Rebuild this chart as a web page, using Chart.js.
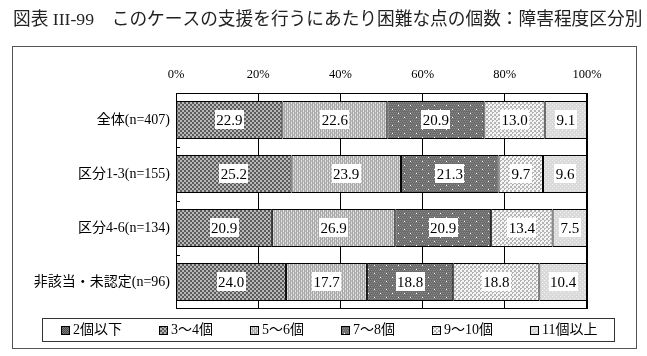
<!DOCTYPE html>
<html><head><meta charset="utf-8">
<script src="https://cdn.jsdelivr.net/npm/chart.js@4/dist/chart.umd.min.js"></script>
<style>html,body{margin:0;padding:0;background:#fff;}canvas{display:block;}</style>
</head><body>
<canvas id="c" width="647" height="356"></canvas>
<script>
const titleText = '図表 III-99　このケースの支援を行うにあたり困難な点の個数：障害程度区分別';
const categories = ['全体(n=407)', '区分1-3(n=155)', '区分4-6(n=134)', '非該当・未認定(n=96)'];
const seriesNames = ['2個以下', '3～4個', '5～6個', '7～8個', '9～10個', '11個以上'];
// segments drawn in the bars (legend items 2..6)
const v3to4  = [22.9, 25.2, 20.9, 24.0];
const v5to6  = [22.6, 23.9, 26.9, 17.7];
const v7to8  = [20.9, 21.3, 20.9, 18.8];
const v9to10 = [13.0,  9.7, 13.4, 18.8];
const v11up  = [ 9.1,  9.6,  7.5, 10.4];
const tickValues = [0, 20, 40, 60, 80, 100];

const FONT = '"Liberation Serif", "Noto Sans CJK JP", serif';

function pat(w, h, fn) {
  const c = document.createElement('canvas'); c.width = w; c.height = h;
  const g = c.getContext('2d'); fn(g);
  return document.getElementById('c').getContext('2d').createPattern(c, 'repeat');
}
function checker(a, b, s) {
  return pat(2*s, 2*s, g => { g.fillStyle = a; g.fillRect(0,0,2*s,2*s); g.fillStyle = b; g.fillRect(0,0,s,s); g.fillRect(s,s,s,s); });
}
const patterns = [
  checker('#4a4a4a', '#7a7a7a', 1),
  checker('#5c5c5c', '#b8b8b8', 2),
  pat(4, 4, g => { g.fillStyle = '#bdbdbd'; g.fillRect(0,0,4,4); g.fillStyle = '#e4e4e4'; g.fillRect(0,0,2,2); g.fillRect(2,2,2,2); g.fillStyle='#a8a8a8'; g.fillRect(0,0,1,4); g.fillRect(2,0,1,4);}),
  pat(12, 8, g => { g.fillStyle = '#6c6c6c'; g.fillRect(0,0,12,8); g.fillStyle = '#8a8a8a';
      for (let y=0;y<8;y+=2) for (let x=(y/2)%2;x<12;x+=2) g.fillRect(x,y,1,1);
      g.fillStyle = '#ffffff'; g.fillRect(2,1,1,1); g.fillRect(8,5,1,1); }),
  pat(4, 4, g => { g.fillStyle = '#f4f4f4'; g.fillRect(0,0,4,4); g.fillStyle = '#b4b4b4'; g.fillRect(0,0,2,2); g.fillRect(2,2,2,2); g.fillStyle='#ffffff'; g.fillRect(1,1,1,1);}),
  pat(4, 4, g => { g.fillStyle = '#dadada'; g.fillRect(0,0,4,4); g.fillStyle = '#f2f2f2'; g.fillRect(0,0,1,1); g.fillRect(2,2,1,1); })
];

const rawSeries = [v3to4, v5to6, v7to8, v9to10, v11up];
const rowSums = categories.map((_, i) => rawSeries.reduce((s, arr) => s + arr[i], 0));
const datasets = rawSeries.map((arr, k) => ({
  label: seriesNames[k+1],
  raw: arr,
  data: arr.map((v, i) => v / rowSums[i] * 100),
  backgroundColor: patterns[k+1],
  borderColor: '#000',
  borderWidth: 1,
  borderSkipped: false,
  categoryPercentage: 1,
  barPercentage: 0.7
}));

const decor = {
  id: 'decor',
  beforeDraw(chart) {
    const ctx = chart.ctx;
    ctx.save();
    ctx.fillStyle = '#fff'; ctx.fillRect(0, 0, chart.width, chart.height);
    ctx.fillStyle = '#222';
    ctx.font = '17.7px ' + FONT;
    ctx.textBaseline = 'middle'; ctx.textAlign = 'left';
    ctx.fillText(titleText, 13, 20);
    ctx.strokeStyle = '#555'; ctx.lineWidth = 1;
    ctx.strokeRect(12.5, 46.5, 624, 302);
    ctx.restore();
  },
  afterDraw(chart) {
    const ctx = chart.ctx, a = chart.chartArea;
    ctx.save();
    ctx.strokeStyle = '#000'; ctx.lineWidth = 1;
    ctx.strokeRect(Math.round(a.left)+0.5, Math.round(a.top)+0.5, Math.round(a.right-a.left)-1, Math.round(a.bottom-a.top)-1);
    // small ticks between categories
    const ys = chart.scales.y;
    for (let i = 0; i < categories.length - 1; i++) {
      const y = Math.round((ys.getPixelForValue(i) + ys.getPixelForValue(i+1)) / 2) + 0.5;
      ctx.beginPath(); ctx.moveTo(a.left, y); ctx.lineTo(a.left + 4, y); ctx.stroke();
    }
    // value labels
    ctx.font = '15px ' + FONT;
    ctx.textAlign = 'center'; ctx.textBaseline = 'middle';
    chart.data.datasets.forEach((ds, k) => {
      chart.getDatasetMeta(k).data.forEach((el, i) => {
        const txt = ds.raw[i].toFixed(1);
        const cx = (el.x + el.base) / 2, cy = el.y;
        const w = ctx.measureText(txt).width + 3;
        ctx.fillStyle = '#fff'; ctx.fillRect(Math.round(cx - w/2), Math.round(cy - 10), Math.round(w), 19);
        ctx.fillStyle = '#000'; ctx.fillText(txt, cx, cy + 1);
      });
    });
    // legend
    const lx0 = 42, lx1 = 614, ly0 = 318, ly1 = 341;
    ctx.strokeStyle = '#333';
    ctx.strokeRect(lx0 + 0.5, ly0 + 0.5, lx1 - lx0, ly1 - ly0);
    ctx.font = '14px ' + FONT;
    ctx.textAlign = 'left';
    const widths = seriesNames.map(s => 12 + ctx.measureText(s).width);
    const gap = 37;
    let x = lx0 + 19;
    const cy = (ly0 + ly1) / 2 + 1;
    seriesNames.forEach((s, k) => {
      ctx.fillStyle = patterns[k];
      ctx.fillRect(x, Math.round(cy - 5), 9, 9);
      ctx.strokeStyle = '#000';
      ctx.strokeRect(x + 0.5, Math.round(cy - 5) + 0.5, 8, 8);
      ctx.fillStyle = '#000';
      ctx.fillText(s, x + 12, cy);
      x = Math.round(x + widths[k] + gap);
    });
    ctx.restore();
  }
};

new Chart(document.getElementById('c'), {
  type: 'bar',
  data: { labels: categories, datasets },
  options: {
    indexAxis: 'y',
    responsive: false,
    devicePixelRatio: 1,
    animation: false,
    layout: { padding: { left: 0, right: 60, top: 68, bottom: 47 } },
    plugins: { legend: { display: false }, tooltip: { enabled: false }, title: { display: false } },
    scales: {
      x: {
        position: 'top', stacked: true, min: 0, max: 100,
        afterBuildTicks: s => { s.ticks = tickValues.map(v => ({ value: v })); },
        afterFit: s => { s.height = 25; },
        ticks: { callback: v => v + '%', color: '#000', font: { family: FONT, size: 12.5 }, padding: 11, maxRotation: 0 },
        grid: { color: '#000', drawTicks: false, lineWidth: 1 },
        border: { display: false }
      },
      y: {
        stacked: true,
        afterFit: s => { s.width = 176; },
        ticks: { color: '#000', font: { family: FONT, size: 14 }, padding: 6 },
        grid: { display: false, drawTicks: false },
        border: { display: false }
      }
    }
  },
  plugins: [decor]
});
</script>
</body></html>
